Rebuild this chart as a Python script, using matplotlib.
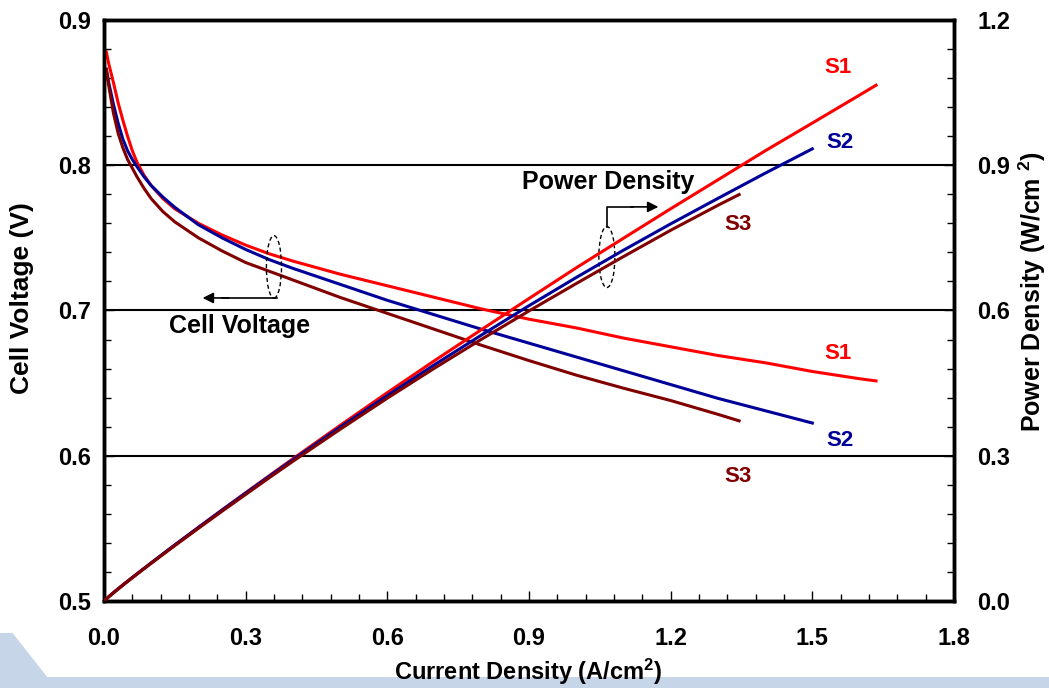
import numpy as np
import matplotlib
matplotlib.use("Agg")
import matplotlib.pyplot as plt
from matplotlib.patches import Ellipse, Polygon
from matplotlib.ticker import FormatStrFormatter

plt.rcParams['font.family'] = ['Liberation Sans', 'DejaVu Sans']
plt.rcParams['font.weight'] = 'bold'
plt.rcParams['mathtext.default'] = 'regular'

# current density (A/cm2), cell voltage (V), power density (W/cm2)
s1_i = [0.005, 0.01, 0.02, 0.03, 0.04, 0.05, 0.06, 0.07, 0.085, 0.1, 0.125, 0.15,
        0.2, 0.25, 0.3, 0.35, 0.4, 0.5, 0.6, 0.7, 0.8, 0.9, 1.0, 1.1, 1.2, 1.3,
        1.4, 1.5, 1.6, 1.635]
s1_v = [0.878, 0.870, 0.857, 0.843, 0.831, 0.820, 0.810, 0.802, 0.793, 0.786,
        0.777, 0.770, 0.760, 0.752, 0.745, 0.739, 0.734, 0.725, 0.717, 0.709,
        0.701, 0.694, 0.688, 0.681, 0.675, 0.669, 0.664, 0.658, 0.653, 0.6515]
s1_p = [0.0044, 0.0087, 0.0171, 0.0253, 0.0332, 0.041, 0.0486, 0.0561, 0.0674,
        0.0786, 0.0971, 0.1155, 0.152, 0.188, 0.2235, 0.2587, 0.2936, 0.3625,
        0.4302, 0.4963, 0.5608, 0.6246, 0.688, 0.7491, 0.81, 0.8697, 0.9296,
        0.987, 1.0448, 1.0652]

s2_i = [0.005, 0.01, 0.02, 0.03, 0.04, 0.05, 0.06, 0.07, 0.085, 0.1, 0.125, 0.15,
        0.2, 0.25, 0.3, 0.35, 0.4, 0.5, 0.6, 0.7, 0.8, 0.9, 1.0, 1.1, 1.2, 1.3,
        1.4, 1.5]
s2_v = [0.866, 0.857, 0.842, 0.829, 0.818, 0.810, 0.804, 0.799, 0.792, 0.786,
        0.778, 0.771, 0.759, 0.750, 0.742, 0.735, 0.729, 0.718, 0.707, 0.697,
        0.687, 0.6775, 0.668, 0.6585, 0.649, 0.6395, 0.631, 0.6225]
s2_p = [0.0043, 0.0086, 0.0168, 0.0249, 0.0327, 0.0405, 0.0482, 0.0559, 0.0673,
        0.0786, 0.0973, 0.1157, 0.1518, 0.1875, 0.2226, 0.2573, 0.2916, 0.359,
        0.4242, 0.4879, 0.5496, 0.6098, 0.668, 0.7244, 0.7788, 0.8314, 0.8834,
        0.9338]

s3_i = [0.005, 0.01, 0.02, 0.03, 0.04, 0.05, 0.06, 0.07, 0.085, 0.1, 0.125, 0.15,
        0.2, 0.25, 0.3, 0.35, 0.4, 0.5, 0.6, 0.7, 0.8, 0.9, 1.0, 1.1, 1.2, 1.3,
        1.345]
s3_v = [0.866, 0.855, 0.836, 0.822, 0.812, 0.804, 0.798, 0.792, 0.784, 0.777,
        0.768, 0.761, 0.750, 0.741, 0.733, 0.727, 0.721, 0.709, 0.698, 0.687,
        0.676, 0.6655, 0.6555, 0.6465, 0.638, 0.6285, 0.624]
s3_p = [0.0043, 0.0086, 0.0167, 0.0247, 0.0325, 0.0402, 0.0479, 0.0554, 0.0666,
        0.0777, 0.096, 0.1142, 0.15, 0.1853, 0.2199, 0.2545, 0.2884, 0.3545,
        0.4188, 0.4809, 0.5408, 0.599, 0.6555, 0.7112, 0.7656, 0.8171, 0.8393]

series = [
    ("S1", s1_i, s1_v, s1_p, "#ff0000"),
    ("S2", s2_i, s2_v, s2_p, "#000099"),
    ("S3", s3_i, s3_v, s3_p, "#800000"),
]

fig = plt.figure(figsize=(10.49, 6.88), dpi=100)

# slide decoration at the bottom left
deco = Polygon([(0, 0), (0, 0.08), (0.012, 0.08), (0.045, 0.016), (1, 0.016), (1, 0)],
               closed=True, transform=fig.transFigure, facecolor="#c6d5e8",
               edgecolor="none", zorder=0)
fig.patches.append(deco)

ax = fig.add_axes([0.0991, 0.1265, 0.8103, 0.8445])
ax2 = ax.twinx()

ax.set_xlim(0, 1.8)
ax.set_ylim(0.5, 0.9)
ax2.set_ylim(0.0, 1.2)

for name, i, v, p, c in series:
    ax.plot(i, v, color=c, lw=2.2, zorder=3, solid_joinstyle='round')
    ax2.plot([0] + i, [0] + p, color=c, lw=2.2, zorder=3, solid_joinstyle='round')

for yv in [0.6, 0.7, 0.8]:
    ax.axhline(yv, color="black", lw=1.5, zorder=2)

ax.set_xticks(np.arange(0, 1.81, 0.3))
ax.set_xticks(np.arange(0, 1.81, 0.06), minor=True)
ax.set_yticks(np.arange(0.5, 0.91, 0.1))
ax.set_yticks(np.arange(0.5, 0.91, 0.02), minor=True)
ax2.set_yticks(np.arange(0, 1.21, 0.3))
ax2.set_yticks(np.arange(0, 1.21, 0.06), minor=True)
ax.xaxis.set_major_formatter(FormatStrFormatter('%.1f'))
ax.yaxis.set_major_formatter(FormatStrFormatter('%.1f'))
ax2.yaxis.set_major_formatter(FormatStrFormatter('%.1f'))

ax.tick_params(axis='x', which='both', direction='in', top=False, labelsize=17, pad=19)
ax.tick_params(axis='y', which='both', direction='in', right=False, labelsize=17, pad=9)
ax2.tick_params(axis='y', which='both', direction='in', labelsize=17, pad=17)
for a in (ax, ax2):
    a.tick_params(which='major', length=7, width=1)
    a.tick_params(which='minor', length=5, width=1)
    for sp in a.spines.values():
        sp.set_linewidth(2.5)

# axis titles
fig.text(528 / 1049, 1 - 672 / 688, "Current Density (A/cm$^2$)", fontsize=17,
         fontweight='bold', ha='center', va='center')
fig.text(22 / 1049, 1 - 298 / 688, "Cell Voltage (V)", fontsize=19,
         fontweight='bold', ha='center', va='center', rotation=90)
fig.text(1032 / 1049, 1 - 292 / 688, "Power Density (W/cm $^2$)", fontsize=18,
         fontweight='bold', ha='center', va='center', rotation=90)

# series labels
lab = dict(fontsize=16, fontweight='bold', ha='center', va='center')
ax.text(1.554, 0.8676, "S1", color="#ff0000", **lab)
ax.text(1.559, 0.8153, "S2", color="#000099", **lab)
ax.text(1.343, 0.7589, "S3", color="#800000", **lab)
ax.text(1.554, 0.6707, "S1", color="#ff0000", **lab)
ax.text(1.559, 0.6108, "S2", color="#000099", **lab)
ax.text(1.343, 0.5854, "S3", color="#800000", **lab)

# annotations
ax.add_patch(Ellipse((1.065, 0.7368), 0.034, 0.042, fill=False, ls=(0, (3, 2)),
                     lw=1, color="black", zorder=4))
ax.add_patch(Ellipse((0.36, 0.730), 0.032, 0.043, fill=False, ls=(0, (3, 2)),
                     lw=1, color="black", zorder=4))
ax.plot([1.065, 1.065, 1.12], [0.7575, 0.7713, 0.7713], color="black", lw=1.2, zorder=4)
ax.annotate("", xy=(1.18, 0.7713), xytext=(1.11, 0.7713),
            arrowprops=dict(arrowstyle="-|>", color="black", lw=1.2, mutation_scale=16))
ax.plot([0.366, 0.25], [0.7086, 0.7086], color="black", lw=1.2, zorder=4)
ax.annotate("", xy=(0.203, 0.7086), xytext=(0.27, 0.7086),
            arrowprops=dict(arrowstyle="-|>", color="black", lw=1.2, mutation_scale=16))
ax.text(1.067, 0.7885, "Power Density", fontsize=18, fontweight='bold',
        ha='center', va='center')
ax.text(0.288, 0.6893, "Cell Voltage", fontsize=18, fontweight='bold',
        ha='center', va='center')

fig.savefig("out.png", dpi=100)
